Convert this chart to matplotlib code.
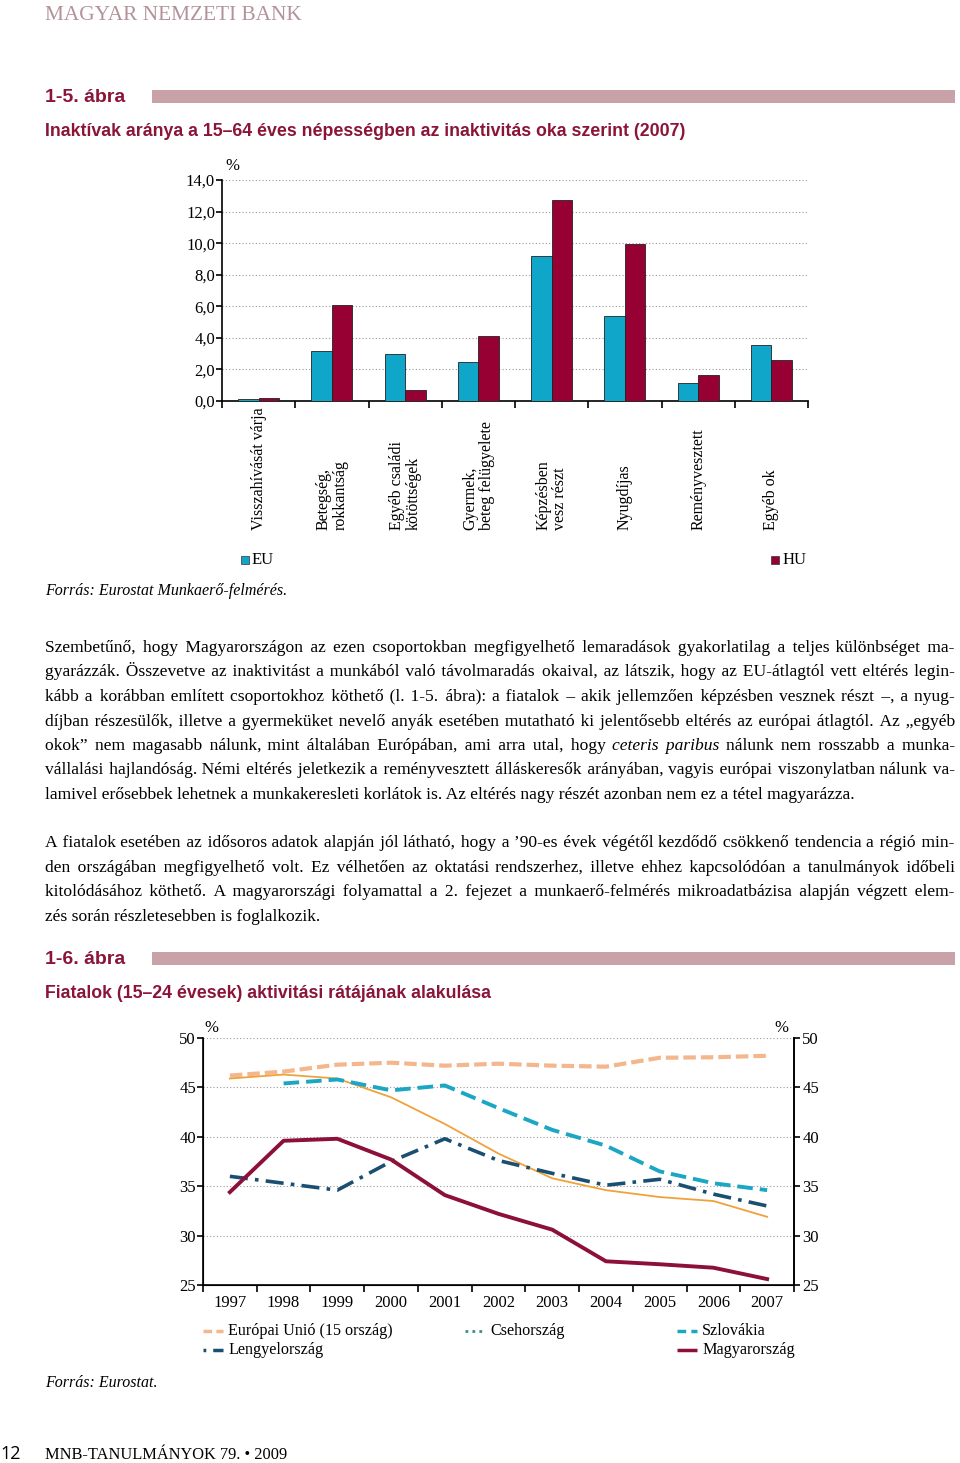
import numpy as np
import matplotlib
matplotlib.use("Agg")
import matplotlib.pyplot as plt
from matplotlib.lines import Line2D
from matplotlib.patches import Rectangle
from matplotlib.font_manager import FontProperties
from matplotlib.ticker import FuncFormatter, MultipleLocator

W, H = 960, 1463
SERIF = ['Liberation Serif', 'DejaVu Serif']
HEAD = ['Liberation Sans Narrow', 'Liberation Sans', 'DejaVu Sans']
DARKRED = '#8a1538'

# --- 1-5. ábra data (% of population aged 15-64) ---
reasons = ["Visszahívását várja", "Betegség,\nrokkantság", "Egyéb családi\nkötöttségek",
           "Gyermek,\nbeteg felügyelete", "Képzésben\nvesz részt", "Nyugdíjas",
           "Reményvesztett", "Egyéb ok"]
eu_share = [0.10, 3.16, 3.00, 2.45, 9.17, 5.40, 1.12, 3.52]
hu_share = [0.17, 6.11, 0.67, 4.10, 12.73, 9.97, 1.62, 2.60]

# --- 1-6. ábra data (activity rate of 15-24 year olds, %) ---
years = list(range(1997, 2008))
eu15 = [46.2, 46.6, 47.3, 47.5, 47.2, 47.4, 47.2, 47.1, 48.0, 48.05, 48.2]
cz = [45.9, 46.3, 45.9, 44.0, 41.3, 38.3, 35.8, 34.6, 33.9, 33.5, 31.9]
sk = [np.nan, 45.4, 45.8, 44.7, 45.2, 42.9, 40.7, 39.1, 36.5, 35.3, 34.6]
pl = [36.0, 35.3, 34.6, 37.5, 39.8, 37.6, 36.3, 35.1, 35.7, 34.2, 33.0]
hu = [34.4, 39.6, 39.8, 37.7, 34.1, 32.2, 30.6, 27.4, 27.1, 26.75, 25.6]

# words starting with "_" are set in italics
para1 = [
    "Szembetűnő, hogy Magyarországon az ezen csoportokban megfigyelhető lemaradások gyakorlatilag a teljes különbséget ma-",
    "gyarázzák. Összevetve az inaktivitást a munkából való távolmaradás okaival, az látszik, hogy az EU-átlagtól vett eltérés legin-",
    "kább a korábban említett csoportokhoz köthető (l. 1-5. ábra): a fiatalok – akik jellemzően képzésben vesznek részt –, a nyug-",
    "díjban részesülők, illetve a gyermeküket nevelő anyák esetében mutatható ki jelentősebb eltérés az európai átlagtól. Az „egyéb",
    "okok” nem magasabb nálunk, mint általában Európában, ami arra utal, hogy _ceteris _paribus nálunk nem rosszabb a munka-",
    "vállalási hajlandóság. Némi eltérés jeletkezik a reményvesztett álláskeresők arányában, vagyis európai viszonylatban nálunk va-",
    "lamivel erősebbek lehetnek a munkakeresleti korlátok is. Az eltérés nagy részét azonban nem ez a tétel magyarázza.",
]
para2 = [
    "A fiatalok esetében az idősoros adatok alapján jól látható, hogy a ’90-es évek végétől kezdődő csökkenő tendencia a régió min-",
    "den országában megfigyelhető volt. Ez vélhetően az oktatási rendszerhez, illetve ehhez kapcsolódóan a tanulmányok időbeli",
    "kitolódásához köthető. A magyarországi folyamattal a 2. fejezet a munkaerő-felmérés mikroadatbázisa alapján végzett elem-",
    "zés során részletesebben is foglalkozik.",
]


def rect(l, t, r, b):
    return [l / W, 1 - b / H, (r - l) / W, (b - t) / H]


fig = plt.figure(figsize=(W / 100, H / 100), dpi=100)
pg = fig.add_axes([0, 0, 1, 1])
pg.set_xlim(0, W)
pg.set_ylim(H, 0)
pg.axis('off')
renderer = fig.canvas.get_renderer()

# header
pg.text(45, 15, "MAGYAR NEMZETI BANK", family=SERIF, fontsize=15.4, color='#b3939a', va='center')


def heading(y, num, title):
    pg.text(45, y, num, family=HEAD, fontsize=14, weight='bold', color=DARKRED, va='center')
    pg.add_patch(Rectangle((152, y - 7), 803, 13, color='#c9a1a8', lw=0))
    pg.text(45, y + 34, title, family=HEAD, fontsize=12.8, weight='bold', color=DARKRED, va='center')


heading(97, "1-5. ábra", "Inaktívak aránya a 15–64 éves népességben az inaktivitás oka szerint (2007)")
heading(959, "1-6. ábra", "Fiatalok (15–24 évesek) aktivitási rátájának alakulása")

# --- bar chart ---
ax = fig.add_axes(rect(222, 180, 808, 401))
n = len(reasons)
pos = np.arange(n) + 0.5
bw = 0.28
ax.bar(pos - bw, eu_share, bw, align='edge', color='#0fa6c9', edgecolor='#222222', lw=0.6, zorder=3)
ax.bar(pos, hu_share, bw, align='edge', color='#970032', edgecolor='#222222', lw=0.6, zorder=3)
ax.set_xlim(0, n)
ax.set_ylim(0, 14)
ax.yaxis.set_major_locator(MultipleLocator(2))
ax.yaxis.set_major_formatter(FuncFormatter(lambda v, p: f"{v:.1f}".replace('.', ',')))
ax.set_xticks(np.arange(n + 1))
ax.set_xticklabels([])
ax.tick_params(axis='x', length=5, width=1.2, direction='out')
ax.tick_params(axis='y', length=4, width=1.2, direction='out', labelsize=12, pad=1)
for lab in ax.get_yticklabels():
    lab.set_family(SERIF)
ax.grid(axis='y', color='#9a9a9a', lw=0.8, ls=(0, (1, 2)), zorder=0)
for s in ['top', 'right']:
    ax.spines[s].set_visible(False)
ax.spines['left'].set_linewidth(1.2)
ax.spines['bottom'].set_linewidth(1.2)
pg.text(232, 166, "%", family=SERIF, fontsize=12, va='center', ha='center')

for i, lab in enumerate(reasons):
    xc = 222 + (808 - 222) * (i + 0.5) / n
    pg.text(xc, 530, lab, rotation=90, ha='center', va='bottom', multialignment='left',
            family=SERIF, fontsize=11.5, linespacing=1.05)

pg.add_patch(Rectangle((241, 556), 8, 8, facecolor='#0fa6c9', edgecolor='#333333', lw=0.5))
pg.text(252, 560, "EU", family=SERIF, fontsize=12, va='center')
pg.add_patch(Rectangle((771, 556), 8, 8, facecolor='#970032', edgecolor='#333333', lw=0.5))
pg.text(783, 560, "HU", family=SERIF, fontsize=12, va='center')
pg.text(45, 591, "Forrás: Eurostat Munkaerő-felmérés.", family=SERIF, style='italic', fontsize=11.5, va='center')

# --- body text, justified (runs of one style are drawn as one string,
#     extra word spacing is made of hair spaces) ---
SIZE = 12.6
HAIR = '\u200a'
LEFT, RIGHT = 45, 955


def width(s, style='normal'):
    prop = FontProperties(family=SERIF, size=SIZE, style=style)
    return renderer.get_text_width_height_descent(s, prop, ismath=False)[0]


sp_w = width("x x") - width("xx")
hair_w = width("x" + HAIR + "x") - width("xx")


def justify(y, line, last=False):
    words = []
    for w in line.split(' '):
        words.append((w[1:], 'italic') if w.startswith('_') else (w, 'normal'))
    widths = [width(w, s) for w, s in words]
    ngap = len(words) - 1
    extra = 0.0 if last else max(0.0, (RIGHT - LEFT - sum(widths)) / ngap - sp_w)
    hairs, done = [], 0
    for i in range(ngap):
        tot = int(round(extra * (i + 1) / hair_w))
        hairs.append(tot - done)
        done = tot
    x = LEFT
    run, run_style, run_x = "", None, LEFT
    for i, (w, s) in enumerate(words):
        if s != run_style and run:
            pg.text(run_x, y, run, family=SERIF, fontsize=SIZE, style=run_style, va='baseline')
            run, run_x = "", x
        run_style = s
        run += w
        x += widths[i]
        if i < ngap:
            if words[i + 1][1] == s:
                run += ' ' + HAIR * hairs[i]
            x += sp_w + hairs[i] * hair_w
    pg.text(run_x, y, run, family=SERIF, fontsize=SIZE, style=run_style, va='baseline')


for k, line in enumerate(para1):
    justify(652 + 24.5 * k, line, last=(k == len(para1) - 1))
for k, line in enumerate(para2):
    justify(847 + 24.6 * k, line, last=(k == len(para2) - 1))

# --- line chart ---
lx = fig.add_axes(rect(203, 1038, 794, 1285))
lx.plot(years, eu15, color='#f4b68c', lw=3, dashes=(3, 1.2), zorder=3)
lx.plot(years, cz, color='#f0a23a', lw=1.3, zorder=3)
lx.plot(years, sk, color='#1ba7c3', lw=2.8, dashes=(4, 1.8), zorder=3)
lx.plot(years, pl, color='#1b4f72', lw=2.6, dashes=(5, 2, 1, 2), zorder=3)
lx.plot(years, hu, color='#8c1038', lw=2.8, zorder=4)
lx.set_xlim(1996.5, 2007.5)
lx.set_ylim(25, 50)
lx.set_xticks(years)
lx.set_xticks(np.arange(1996.5, 2008, 1), minor=True)
lx.tick_params(axis='x', which='major', length=0, pad=7, labelsize=12)
lx.tick_params(axis='x', which='minor', length=5, width=1.2, direction='out')
lx.yaxis.set_major_locator(MultipleLocator(5))
lx.tick_params(axis='y', length=4, width=1.2, direction='out', labelsize=12, pad=1)
lx.grid(axis='y', color='#9a9a9a', lw=0.8, ls=(0, (1, 2)), zorder=0)
lx.spines['top'].set_visible(False)
for s in ['left', 'right', 'bottom']:
    lx.spines[s].set_linewidth(1.2)
rx = lx.twinx()
rx.set_ylim(25, 50)
rx.yaxis.set_major_locator(MultipleLocator(5))
rx.tick_params(axis='y', length=4, width=1.2, direction='out', labelsize=12, pad=2)
rx.spines['top'].set_visible(False)
rx.spines['right'].set_linewidth(1.2)
for a in (lx, rx):
    for lab in a.get_xticklabels() + a.get_yticklabels():
        lab.set_family(SERIF)
pg.text(211, 1028, "%", family=SERIF, fontsize=12, va='center', ha='center')
pg.text(781, 1028, "%", family=SERIF, fontsize=12, va='center', ha='center')

# legend (drawn by hand, as in the original layout)
legend_items = [
    (203, 1331, "Európai Unió (15 ország)", dict(color='#f4b68c', lw=2.5, dashes=(2.5, 1.2))),
    (465, 1331, "Csehország", dict(color='#3d8f80', lw=2, dashes=(1, 1.5))),
    (677, 1331, "Szlovákia", dict(color='#1ba7c3', lw=2.5, dashes=(2.5, 1.5))),
    (203, 1350, "Lengyelország", dict(color='#1b4f72', lw=2.5, dashes=(0.8, 2, 5, 0.1))),
    (677, 1350, "Magyarország", dict(color='#8c1038', lw=2.5)),
]
for x0, y0, label, kw in legend_items:
    pg.add_line(Line2D([x0, x0 + 20], [y0, y0], solid_capstyle='butt', dash_capstyle='butt', **kw))
    pg.text(x0 + 25, y0, label, family=SERIF, fontsize=11.6, va='center')

pg.text(45, 1383, "Forrás: Eurostat.", family=SERIF, style='italic', fontsize=11.5, va='center')

# footer
pg.text(0, 1454, "12", family=['Open Sans', 'DejaVu Sans'], fontsize=13, va='center')
pg.text(45, 1455, "MNB-TANULMÁNYOK 79. • 2009", family=SERIF, fontsize=11.8, va='center')

fig.savefig("out.png", dpi=100)
